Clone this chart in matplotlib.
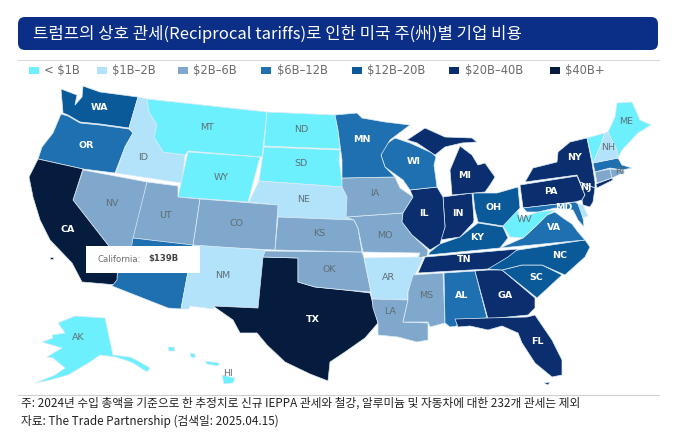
import matplotlib
matplotlib.use('Agg')
import matplotlib.pyplot as plt
from matplotlib.patches import Polygon, FancyBboxPatch, Rectangle

plt.rcParams['font.family'] = ['Noto Sans CJK KR', 'DejaVu Sans']

# legend bins
bin_labels = ['< $1B', '$1B–2B', '$2B–6B', '$6B–12B', '$12B–20B', '$20B–40B', '$40B+']
bin_colors = ['#6DF0FE', '#B2E3FB', '#7FA8CC', '#1F70B0', '#0A5A9A', '#0A2E6E', '#061C3E']

# state -> bin index
state_bin = {
    'WA': 4, 'OR': 3, 'CA': 6, 'ID': 1, 'NV': 2, 'MT': 0, 'WY': 0, 'UT': 2, 'AZ': 3, 'CO': 2,
    'NM': 1, 'ND': 0, 'SD': 0, 'NE': 1, 'KS': 2, 'OK': 2, 'TX': 6, 'MN': 3, 'IA': 2, 'MO': 2,
    'AR': 1, 'LA': 2, 'WI': 3, 'IL': 5, 'MS': 2, 'MI': 5, 'IN': 5, 'OH': 4, 'KY': 4, 'TN': 5,
    'AL': 3, 'GA': 5, 'FL': 5, 'SC': 4, 'NC': 4, 'VA': 3, 'WV': 0, 'MD': 3, 'DE': 1, 'PA': 5,
    'NJ': 5, 'NY': 5, 'CT': 2, 'RI': 2, 'MA': 3, 'VT': 0, 'NH': 1, 'ME': 0, 'AK': 0, 'HI': 0,
}

# state outlines, in image pixels
outlines = {
    'WA': [[(61,89),(77,95),(75,105),(82,97),(83,86),(100,92),(138,97),(129,128),(100,124),(80,122),(68,115),(63,113)]],
    'OR': [[(61,114),(68,116),(80,123),(100,125),(129,129),(133,133),(125,147),(115,173),(83,169),(38,159),(42,147),(53,133)]],
    'ID': [[(138,97),(147,99),(149,112),(157,125),(154,137),(163,152),(185,155),(182,183),(116,173),(125,147),(133,133),(129,128)]],
    'MT': [[(147,99),(267,112),(262,157),(188,151),(185,155),(163,152),(154,137),(157,125),(149,112)]],
    'ND': [[(267,112),(335,115),(338,130),(340,149),(264,146)]],
    'SD': [[(264,147),(340,150),(339,160),(343,187),(259,181)]],
    'WY': [[(188,152),(260,157),(248,202),(178,197)]],
    'NE': [[(259,181),(342,187),(347,197),(350,210),(354,220),(277,217),(278,205),(249,202)]],
    'NV': [[(83,170),(147,182),(132,254),(128,258),(116,255),(108,245),(73,200)]],
    'CA': [[(38,159),(83,169),(73,200),(108,245),(116,256),(118,270),(117,285),(82,282),(72,263),(50,240),(40,220),(33,197),(29,177)], [(50,257),(53,257),(53,259),(50,259)]],
    'UT': [[(147,182),(178,186),(178,197),(200,199),(193,246),(133,238)]],
    'CO': [[(200,199),(278,205),(275,250),(193,246)]],
    'AZ': [[(133,238),(193,245),(181,309),(168,308),(112,286),(117,280),(118,258),(130,256)]],
    'NM': [[(193,245),(265,250),(258,308),(213,306),(214,309),(190,306),(189,309),(181,309)]],
    'TX': [[(263,257),(298,258),(298,282),(315,287),(345,290),(370,293),(372,300),(378,323),(365,338),(345,352),(330,362),(328,381),(310,374),(285,362),(267,345),(257,333),(240,333),(233,320),(213,306),(258,308)]],
    'OK': [[(265,251),(362,252),(364,258),(371,292),(345,290),(315,287),(298,282),(298,258),(263,257)]],
    'KS': [[(278,217),(354,220),(358,228),(362,252),(275,250)]],
    'MO': [[(346,217),(403,213),(402,222),(412,235),(428,250),(427,256),(418,258),(420,253),(363,252),(358,228),(354,220)]],
    'IA': [[(342,178),(395,177),(400,188),(413,197),(403,213),(346,217),(347,197),(342,187)]],
    'AR': [[(364,258),(418,257),(423,258),(408,290),(407,300),(372,299),(371,292)]],
    'LA': [[(372,299),(408,300),(403,322),(428,323),(428,340),(417,342),(398,337),(378,335),(378,323),(373,308)]],
    'MS': [[(408,292),(413,275),(443,273),(445,323),(430,327),(428,322),(403,322),(408,300)]],
    'AL': [[(444,273),(475,271),(487,318),(457,320),(457,326),(450,327),(445,323)]],
    'GA': [[(475,271),(488,270),(502,270),(535,298),(535,308),(528,315),(488,319)]],
    'FL': [[(455,319),(487,318),(527,317),(535,315),(552,340),(562,360),(562,375),(552,377),(535,363),(522,343),(518,333),(502,326),(488,330),(470,326),(458,327)], [(544,383),(550,382),(548,385)]],
    'SC': [[(502,270),(522,265),(542,265),(562,275),(537,298)]],
    'NC': [[(488,269),(498,257),(518,250),(585,240),(590,247),(585,257),(565,275),(542,265),(522,265),(502,270)]],
    'TN': [[(425,257),(518,249),(508,257),(488,269),(418,273)]],
    'KY': [[(430,252),(440,244),(460,237),(478,223),(503,227),(508,238),(500,248),(428,255)]],
    'VA': [[(500,248),(516,241),(523,238),(537,225),(547,215),(555,212),(563,218),(572,224),(578,232),(585,240)]],
    'WV': [[(503,226),(517,209),(520,218),(538,212),(555,210),(547,215),(537,225),(523,238),(510,237)]],
    'OH': [[(473,193),(497,193),(518,187),(520,208),(503,226),(478,222),(475,210)]],
    'IN': [[(443,197),(472,193),(474,220),(473,223),(460,237),(440,240),(445,227)]],
    'IL': [[(410,190),(437,187),(443,197),(445,227),(440,244),(430,250),(412,235),(402,222),(403,213),(413,197)]],
    'WI': [[(385,145),(395,138),(410,143),(432,153),(436,157),(434,165),(437,187),(410,190),(403,180),(385,167),(381,155)]],
    'MN': [[(335,115),(357,113),(362,118),(385,122),(410,125),(390,140),(381,155),(385,167),(395,177),(342,178),(342,160),(338,130)]],
    'MI': [[(407,140),(425,128),(445,137),(472,138),(477,142),(462,143),(445,147),(435,155),(417,143)], [(460,146),(472,155),(478,165),(485,163),(495,177),(490,185),(485,192),(452,195),(450,170),(455,158)]],
    'NY': [[(587,138),(592,163),(595,182),(595,188),(580,182),(577,175),(525,182),(533,168),(557,162),(558,152),(570,142)], [(596,184),(612,178),(613,180),(597,188)]],
    'PA': [[(520,185),(577,176),(582,188),(585,195),(582,200),(575,202),(523,208)]],
    'NJ': [[(580,182),(595,188),(593,202),(590,207),(583,205),(582,200),(585,195),(582,188)]],
    'MD': [[(523,208),(575,202),(580,205),(583,218),(584,227),(578,220),(573,210),(555,208),(538,212),(527,212)]],
    'DE': [[(578,204),(583,205),(588,216),(583,218)]],
    'MA': [[(593,163),(618,158),(622,165),(632,168),(622,170),(610,168),(595,172)]],
    'CT': [[(595,172),(610,169),(612,178),(597,183)]],
    'RI': [[(610,169),(622,170),(625,172),(612,178)]],
    'VT': [[(587,138),(605,133),(600,147),(593,163)]],
    'NH': [[(605,133),(608,132),(617,150),(618,158),(593,163),(600,147)]],
    'ME': [[(608,132),(615,117),(617,103),(632,102),(640,120),(651,125),(638,133),(622,150),(618,158),(617,150)]],
    'AK': [[(58,323),(75,316),(105,318),(113,355),(130,357),(140,362),(150,368),(147,372),(133,363),(125,360),(115,357),(100,355),(90,362),(80,368),(68,375),(50,380),(35,383),(55,375),(65,368),(53,358),(47,357),(55,352),(62,348),(42,342),(53,338),(52,335),(65,333)]],
    'HI': [[(168,347),(174,347),(175,351),(169,351)], [(190,353),(195,354),(195,358),(191,357)], [(205,361),(219,363),(218,366),(207,364)], [(222,375),(235,378),(233,383),(224,384)]],
}

# label position, text colour
labels = {
    'WA': (99,108,'w'), 'OR': (86,146,'w'), 'CA': (68,230,'w'), 'ID': (143,158,'g'), 'NV': (112,204,'g'),
    'MT': (207,128,'g'), 'WY': (221,177,'g'), 'UT': (165,215,'g'), 'CO': (236,224,'g'), 'NM': (223,276,'g'),
    'ND': (301,129,'g'), 'SD': (301,164,'g'), 'NE': (304,199,'g'), 'KS': (319,234,'g'), 'OK': (329,269,'g'),
    'TX': (313,319,'w'), 'MN': (362,140,'w'), 'IA': (375,193,'g'), 'MO': (385,235,'g'), 'AR': (388,278,'g'),
    'LA': (390,311,'g'), 'WI': (414,162,'w'), 'IL': (424,213,'w'), 'MS': (426,296,'g'), 'MI': (465,175,'w'),
    'IN': (458,213,'w'), 'OH': (494,207,'w'), 'KY': (477,238,'w'), 'TN': (464,260,'w'), 'AL': (462,296,'w'),
    'GA': (505,295,'w'), 'FL': (537,341,'w'), 'SC': (536,277,'w'), 'NC': (560,255,'w'), 'VA': (554,227,'w'),
    'WV': (525,219,'g'), 'MD': (564,208,'w'), 'PA': (551,192,'w'), 'NJ': (586,187,'w'), 'NY': (575,158,'w'),
    'RI': (620,171,'g'), 'NH': (608,148,'g'), 'ME': (626,121,'g'), 'AK': (78,337,'g'), 'HI': (228,374,'g'),
}

note = '주: 2024년 수입 총액을 기준으로 한 추정치로 신규 IEPPA 관세와 철강, 알루미늄 및 자동차에 대한 232개 관세는 제외'
source = '자료: The Trade Partnership (검색일: 2025.04.15)'
title = '트럼프의 상호 관세(Reciprocal tariffs)로 인한 미국 주(州)별 기업 비용'

fig = plt.figure(figsize=(6.9, 4.41), dpi=100)
ax = fig.add_axes([0, 0, 1, 1])
ax.set_xlim(0, 690)
ax.set_ylim(441, 0)
ax.axis('off')

# title banner
ax.add_patch(FancyBboxPatch((18, 17), 640, 33, boxstyle='round,pad=0,rounding_size=7', lw=0, fc='#0B2F87'))
ax.text(33, 33.5, title, color='white', fontsize=12, va='center', ha='left', fontweight='medium')

ax.plot([18, 659], [59.5, 59.5], color='#D9D9D9', lw=0.8)
ax.plot([18, 659], [394.5, 394.5], color='#D0D0D0', lw=0.8)

# legend
legend_x = [29, 97, 178, 261, 352, 449, 550]
text_x = [44, 112, 193, 277, 367, 465, 565]
for x, tx, lab, c in zip(legend_x, text_x, bin_labels, bin_colors):
    ax.add_patch(Rectangle((x, 66.5), 10, 7, lw=0, fc=c))
    ax.text(tx, 70, lab, fontsize=8.3, color='#6B6B6B', va='center', ha='left', family='DejaVu Sans')

# states
for st, parts in outlines.items():
    for pts in parts:
        ax.add_patch(Polygon(pts, closed=True, fc=bin_colors[state_bin[st]], ec='#DCEBF5', lw=0.5, joinstyle='round'))

for st, (x, y, c) in labels.items():
    col = 'white' if c == 'w' else '#5E6E74'
    ax.text(x, y, st, color=col, fontsize=6.8, fontweight='bold' if c == 'w' else 'normal',
            ha='center', va='center', family='DejaVu Sans')

# tooltip
ax.add_patch(Rectangle((86, 246), 114, 27, lw=0, fc='white', zorder=5))
ax.text(97, 259, 'California:', fontsize=6.1, color='#6B6B6B', va='center', ha='left', zorder=6, family='DejaVu Sans')
ax.text(148, 259, '$139B', fontsize=6.1, color='#444444', va='center', ha='left', fontweight='bold', zorder=6, family='DejaVu Sans')

ax.text(21, 403, note, fontsize=8.43, color='#222222', va='center', ha='left')
ax.text(21, 421, source, fontsize=8.43, color='#222222', va='center', ha='left')

fig.savefig('out.png', dpi=100)
